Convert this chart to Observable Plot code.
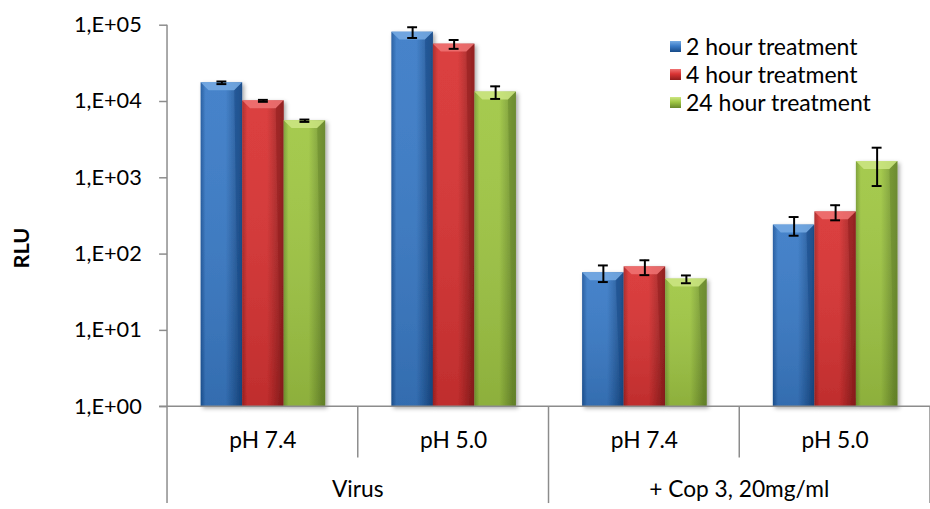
<!DOCTYPE html>
<html><head><meta charset="utf-8">
<script src="https://cdn.jsdelivr.net/npm/d3@7"></script>
<script src="https://cdn.jsdelivr.net/npm/@observablehq/plot@0.6"></script>
<style>
html,body{margin:0;padding:0;background:#fff;overflow:hidden;}
#chart{position:relative;width:930px;height:509px;overflow:hidden;font-family:Lato,"Open Sans",sans-serif;}
#legend{position:absolute;left:670px;top:32px;font-size:23px;color:#000;line-height:28px;}
#legend .row{display:flex;align-items:center;white-space:nowrap;}
#legend .sw{width:11px;height:11px;margin-right:5px;box-sizing:border-box;}
</style></head><body><div id="chart"><div id="legend"></div></div>
<script>
// ---- data ----
const groups = ["Virus", "+ Cop 3, 20mg/ml"];
const groupOf = [0, 0, 1, 1];
const conditions = ["pH 7.4", "pH 5.0", "pH 7.4", "pH 5.0"];
const series = ["2 hour treatment", "4 hour treatment", "24 hour treatment"];
const values2h  = [17600, 81000, 57, 240];
const values4h  = [10200, 56500, 68, 357];
const values24h = [5600, 13300, 47, 1630];
const err2h  = [700, 13000, 14, 66];
const err4h  = [300, 7500, 15, 80];
const err24h = [200, 2500, 5.5, 850];
const yTicks = [1, 10, 100, 1000, 10000, 100000];
const yTickLabels = ["1,E+00", "1,E+01", "1,E+02", "1,E+03", "1,E+04", "1,E+05"];

const vals = [values2h, values4h, values24h];
const errs = [err2h, err4h, err24h];
const data = [];
conditions.forEach((c, i) => series.forEach((s, j) => data.push({k: i, s, j, v: vals[j][i], e: errs[j][i]})));

// ---- styles ----
const pal = [
  {edge: "#1d569c", mid: "#3a7bc7", dark: "#174a88", top: "#77ace4"},
  {edge: "#a82323", mid: "#d93333", dark: "#8f1c1c", top: "#f07474"},
  {edge: "#789c30", mid: "#a0c744", dark: "#67872a", top: "#cde682"}
];

const plot = Plot.plot({
  width: 941, height: 509,
  marginTop: 25, marginBottom: 98, marginLeft: 168, marginRight: 0,
  style: {fontFamily: "Lato, 'Open Sans', sans-serif", fontSize: "22px", color: "#000", background: "transparent", overflow: "visible"},
  fx: {domain: [0, 1, 2, 3], paddingInner: 0, paddingOuter: 0, tickFormat: i => conditions[i], tickSize: 0, tickPadding: 25, label: null},
  x: {domain: series, paddingInner: 0, paddingOuter: 0.745, axis: null},
  y: {type: "log", domain: [1, 1e5], ticks: yTicks, tickFormat: d => yTickLabels[yTicks.indexOf(d)], tickSize: 8, tickPadding: 18, label: null},
  marks: [
    ...series.map((s, j) => Plot.barY(data.filter(d => d.j === j), {
      fx: "k", x: "s", y1: 1, y2: "v", fill: `url(#grad${j})`, className: `bar${j}`
    })),
    Plot.ruleX(data, {fx: "k", x: "s", y1: d => d.v - d.e, y2: d => d.v + d.e, stroke: "#000", strokeWidth: 2}),
    Plot.tickY(data, {fx: "k", x: "s", y: d => d.v + d.e, stroke: "#000", strokeWidth: 2, insetLeft: 16, insetRight: 16}),
    Plot.tickY(data, {fx: "k", x: "s", y: d => d.v - d.e, stroke: "#000", strokeWidth: 2, insetLeft: 16, insetRight: 16})
  ]
});
document.getElementById("chart").appendChild(plot);

// ---- decorations using the plot's scales ----
const svg = d3.select(plot);
svg.selectAll("g[aria-label='fx-axis tick label'] text, g[aria-label='fx-axis tick label']").attr("font-size", 23);
const defs = svg.insert("defs", ":first-child");
pal.forEach((p, j) => {
  const g = defs.append("linearGradient").attr("id", `grad${j}`).attr("x1", 0).attr("x2", 1).attr("y1", 0).attr("y2", 0);
  g.append("stop").attr("offset", "0%").attr("stop-color", p.edge);
  g.append("stop").attr("offset", "12%").attr("stop-color", p.mid);
  g.append("stop").attr("offset", "60%").attr("stop-color", p.mid);
  g.append("stop").attr("offset", "100%").attr("stop-color", p.dark);
});
const vg = defs.append("linearGradient").attr("id", "vshade").attr("x1", 0).attr("x2", 0).attr("y1", 0).attr("y2", 1);
vg.append("stop").attr("offset", "0%").attr("stop-color", "#fff").attr("stop-opacity", 0.06);
vg.append("stop").attr("offset", "100%").attr("stop-color", "#000").attr("stop-opacity", 0.12);
const f = defs.append("filter").attr("id", "shadow").attr("x", "-20%").attr("y", "-5%").attr("width", "140%").attr("height", "115%");
f.append("feDropShadow").attr("dx", 2).attr("dy", 2).attr("stdDeviation", 2).attr("flood-color", "#000").attr("flood-opacity", 0.35);

pal.forEach((p, j) => {
  svg.selectAll(`.bar${j}`).attr("filter", "url(#shadow)");
  svg.selectAll(`.bar${j} rect`).each(function() {
    const x = +this.getAttribute("x"), y = +this.getAttribute("y");
    const w = +this.getAttribute("width"), h = +this.getAttribute("height");
    const par = d3.select(this.parentNode);
    const b = Math.min(8, h / 2);
    par.append("rect").attr("x", x).attr("y", y).attr("width", w).attr("height", h).attr("fill", "url(#vshade)");
    par.append("polygon")
      .attr("points", [[x, y], [x + w, y], [x + w - b, y + b], [x + b, y + b]].map(q => q.join(",")).join(" "))
      .attr("fill", p.top).attr("opacity", 0.85);
    par.append("polygon")
      .attr("points", [[x + w, y], [x + w, y + h], [x + w - 3, y + h - 3], [x + w - b, y + b]].map(q => q.join(",")).join(" "))
      .attr("fill", p.dark).attr("opacity", 0.5);
  });
});

const fx = plot.scale("fx"), ys = plot.scale("y");
const bw = fx.bandwidth;
const y0 = ys.apply(1), yTop = ys.apply(1e5);
const left = fx.apply(0), right = fx.apply(3) + bw;
const axisG = svg.append("g").attr("stroke", "#8c8c8c").attr("stroke-width", 1.5);
axisG.append("line").attr("x1", left).attr("x2", left).attr("y1", yTop).attr("y2", y0);
axisG.append("line").attr("x1", left - 8).attr("x2", right).attr("y1", y0).attr("y2", y0);
[0, 1, 2, 3, 4].forEach(i => {
  const x = i < 4 ? fx.apply(i) : right;
  const full = i % 2 === 0;
  axisG.append("line").attr("x1", x).attr("x2", x).attr("y1", y0).attr("y2", full ? 509 : y0 + 52);
});
svg.selectAll("g[aria-label='y-axis tick'] path, g[aria-label='y-axis tick'] line").attr("stroke", "#8c8c8c").attr("stroke-width", 1.5);

const tg = svg.append("g").attr("font-size", 23).attr("text-anchor", "middle").attr("fill", "#000");
groups.forEach((g, gi) => {
  const idx = groupOf.map((v, i) => v === gi ? i : -1).filter(i => i >= 0);
  const cx = (fx.apply(idx[0]) + fx.apply(idx[idx.length - 1]) + bw) / 2;
  tg.append("text").attr("x", cx).attr("y", y0 + 84).attr("dy", "0.35em").text(g);
});
svg.append("text").attr("transform", `translate(22,251) rotate(-90)`)
  .attr("text-anchor", "middle").attr("dy", "0.35em").attr("font-size", 22).attr("font-weight", "bold").text("RLU");

// ---- legend ----
const lg = d3.select("#legend");
series.forEach((s, j) => {
  const r = lg.append("div").attr("class", "row");
  r.append("div").attr("class", "sw")
    .style("background", `linear-gradient(to bottom, ${pal[j].top} 0%, ${pal[j].mid} 45%, ${pal[j].dark} 100%)`);
  r.append("span").text(s);
});
</script></body></html>
